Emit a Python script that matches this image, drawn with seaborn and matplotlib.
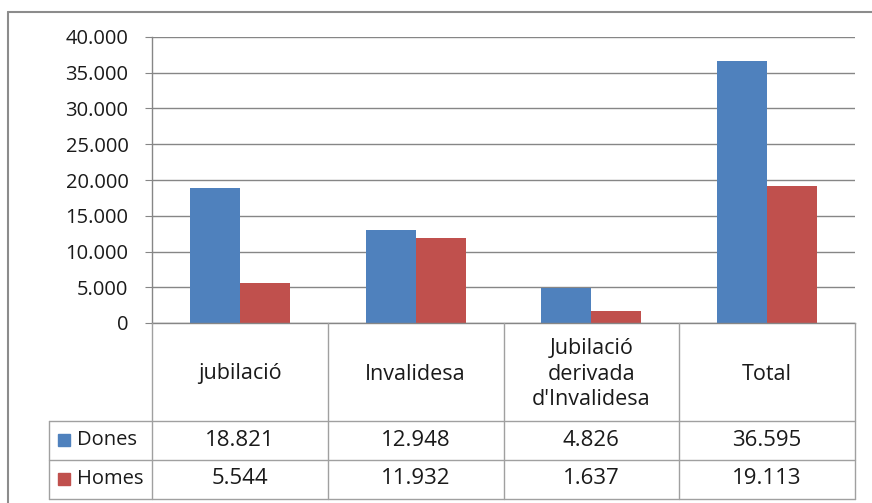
import pandas as pd
import numpy as np
import matplotlib
matplotlib.use('Agg')
import matplotlib.pyplot as plt
import seaborn as sns
from matplotlib.lines import Line2D
from matplotlib.patches import Rectangle
from matplotlib.ticker import FuncFormatter

# data
categories = ['jubilació', 'Invalidesa', "Jubilació\nderivada\nd'Invalidesa", 'Total']
dones = [18821, 12948, 4826, 36595]
homes = [5544, 11932, 1637, 19113]
series = ['Dones', 'Homes']
colors = ['#4F81BD', '#C0504D']

df = pd.DataFrame({
    'cat': categories * 2,
    'val': dones + homes,
    'sex': ['Dones'] * 4 + ['Homes'] * 4,
})

W, H = 872, 503
sns.set_style('white')
plt.rcParams['font.family'] = ['Open Sans', 'DejaVu Sans']
fig = plt.figure(figsize=(W / 100, H / 100), dpi=100)
tc = '#1a1a1a'

def fx(px):
    return px / W

def fy(py):
    return 1 - py / H

# plot area in pixels
L, R, T, B = 152, 855, 37, 323
ax = fig.add_axes([fx(L), fy(B), fx(R - L), (B - T) / H])
sns.barplot(data=df, x='cat', y='val', hue='sex', palette=colors, width=0.57,
            gap=0, ax=ax, legend=False, saturation=1, edgecolor='none')
ax.set_ylim(0, 40000)
ax.set_xlim(-0.5, 3.5)
ax.set_yticks(np.arange(0, 40001, 5000))
ax.yaxis.set_major_formatter(FuncFormatter(lambda v, p: f'{int(v):,}'.replace(',', '.')))
ax.set_xticks([])
ax.set_xlabel('')
ax.set_ylabel('')
ax.grid(axis='y', color='#868686', lw=1)
ax.set_axisbelow(True)
for s in ['top', 'right']:
    ax.spines[s].set_visible(False)
for s in ['left', 'bottom']:
    ax.spines[s].set_color('#868686')
    ax.spines[s].set_linewidth(1)
ax.tick_params(axis='y', length=5, color='#868686', labelsize=14.5, labelcolor=tc, pad=12, left=True)

lc = '#a0a0a0'

def hline(y, x0, x1):
    fig.add_artist(Line2D([fx(x0), fx(x1)], [fy(y), fy(y)], color=lc, lw=1))

def vline(x, y0, y1):
    fig.add_artist(Line2D([fx(x), fx(x)], [fy(y0), fy(y1)], color=lc, lw=1))

# outer frame
fig.add_artist(Line2D([fx(8), fx(8)], [fy(12), fy(503)], color='#8c8c8c', lw=1.5))
fig.add_artist(Line2D([fx(8), fx(872)], [fy(12), fy(12)], color='#8c8c8c', lw=1.5))

# data table
cw = (R - L) / 4
xs = [L + i * cw for i in range(5)]
hdr_b, row1_b, row2_b = 421, 460, 499
for x in xs:
    vline(x, B, row2_b)
vline(49, hdr_b, row2_b)
hline(hdr_b, 49, R)
hline(row1_b, 49, R)
hline(row2_b, 49, R)

for i, c in enumerate(categories):
    fig.text(fx(xs[i] + cw / 2), fy(374), c, ha='center', va='center',
             fontsize=15.5, color=tc, linespacing=1.3)

fmt = lambda v: f'{v:,}'.replace(',', '.')
for r, (name, vals, col) in enumerate(zip(series, [dones, homes], colors)):
    yc = [hdr_b, row1_b][r] + 19
    fig.add_artist(Rectangle((fx(58), fy(yc + 6)), 12 / W, 12 / H, color=col))
    fig.text(fx(77), fy(yc), name, ha='left', va='center', fontsize=14.5, color=tc)
    for i, v in enumerate(vals):
        fig.text(fx(xs[i] + cw / 2), fy(yc), fmt(v), ha='center', va='center',
                 fontsize=16, color=tc)

fig.savefig('out.png', dpi=100)
